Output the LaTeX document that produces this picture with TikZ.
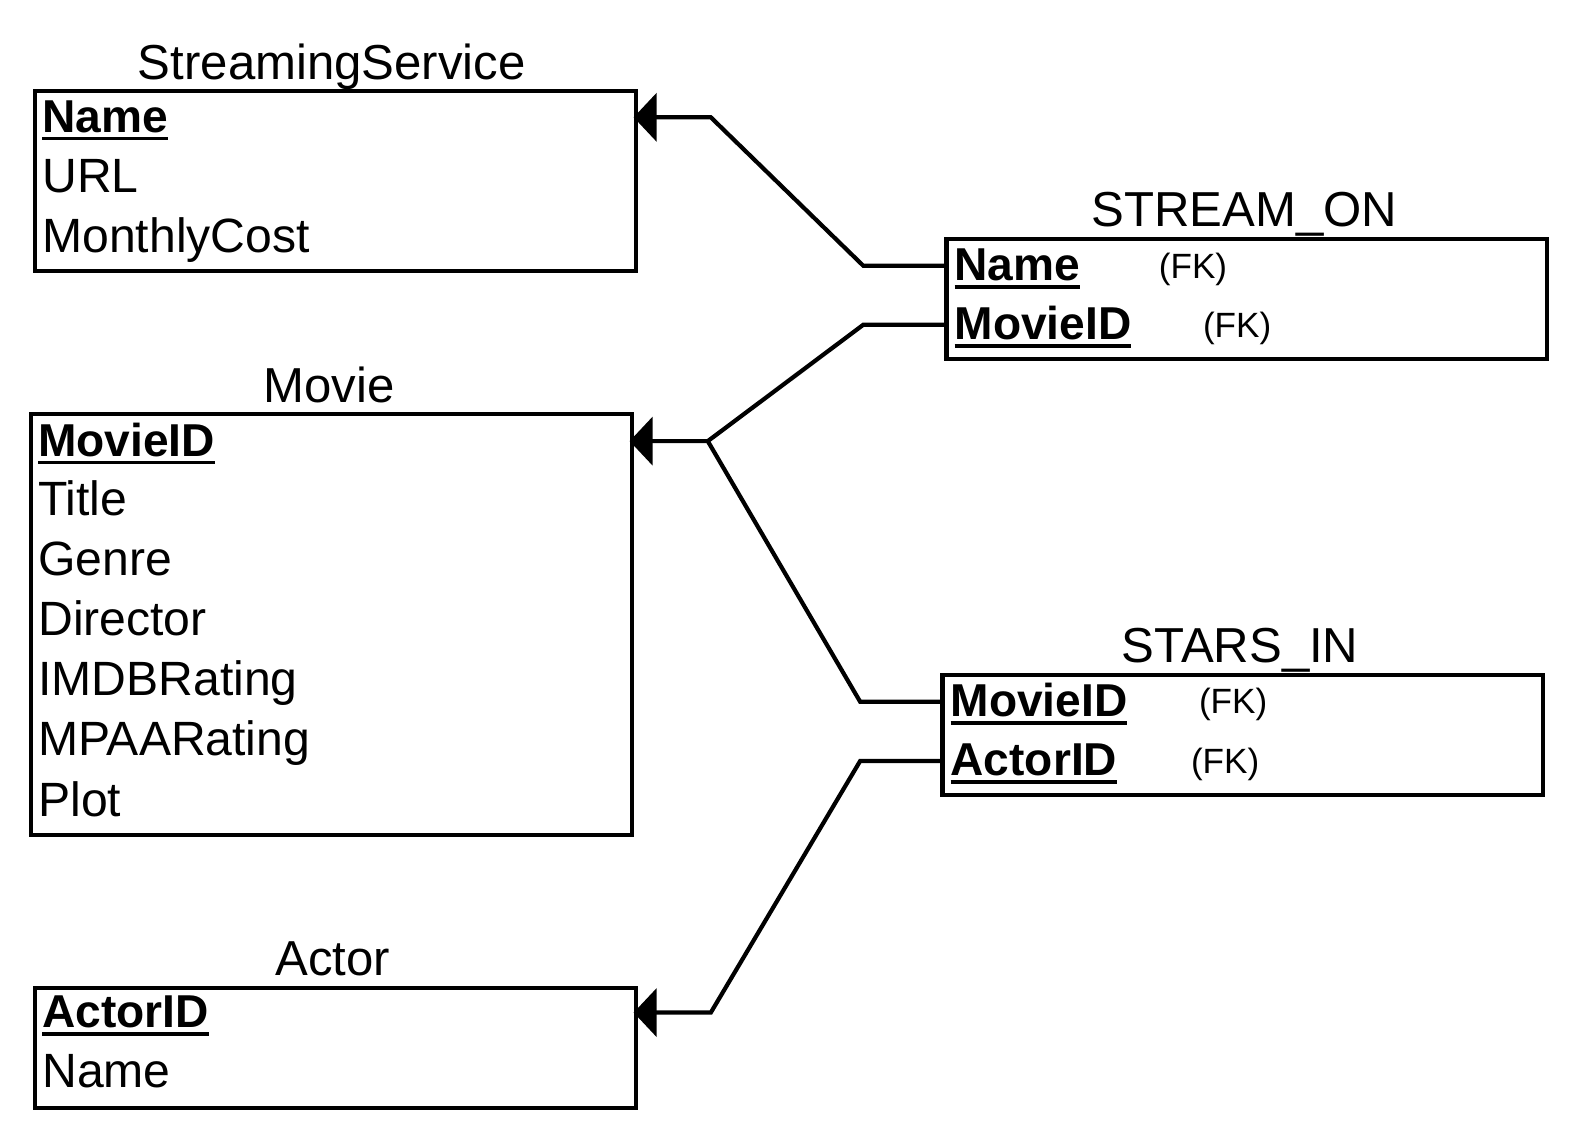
\documentclass[tikz,border=0pt]{standalone}
\usepackage{fontspec}
\setmainfont{Liberation Sans}
\usetikzlibrary{arrows.meta}
\newcommand\keyu[1]{\setbox0\hbox{#1}\rlap{\rule[-8pt]{\wd0}{3.5pt}}\box0}
\begin{document}
\begin{tikzpicture}[x=1pt,y=-1pt,
  tbl/.style={draw, line width=4.2pt, anchor=north west, inner sep=0pt, minimum width=599pt},
  ttl/.style={anchor=base, inner sep=0pt, font=\fontsize{49}{56}\selectfont},
  attr/.style={anchor=base west, inner sep=0pt, font=\fontsize{48}{56}\selectfont},
  pk/.style={anchor=base west, inner sep=0pt, font=\fontsize{46}{56}\selectfont\bfseries},
  fk/.style={anchor=base, inner sep=0pt, font=\fontsize{35}{40}\selectfont},
  conn/.style={line width=4.2pt, line join=miter},
  arr/.style={conn, -{Triangle[length=23pt,width=48pt]}}
]
\useasboundingbox (0,0) rectangle (1568,1129);

% StreamingService
\node[tbl, minimum height=179pt] (ss) at (33,89) {};
\node[ttl] (sst) at (331,79) {StreamingService};
\node[pk] (ss1) at (42,132) {\keyu{Name}};
\node[attr] (ss2) at (42,192) {URL};
\node[attr] (ss3) at (42,252) {MonthlyCost};
\coordinate (ssk) at (632,117);

% Movie
\node[tbl, minimum height=420pt] (mv) at (29,411) {};
\node[ttl] (mvt) at (328,401) {Movie};
\node[pk] (mv1) at (38,455) {\keyu{MovieID}};
\node[attr] (mv2) at (38,514) {Title};
\node[attr] (mv3) at (38,574) {Genre};
\node[attr] (mv4) at (38,634) {Director};
\node[attr] (mv5) at (38,694) {IMDBRating};
\node[attr] (mv6) at (38,754) {MPAARating};
\node[attr] (mv7) at (38,814) {Plot};
\coordinate (mvk) at (628,440);

% Actor
\node[tbl, minimum height=120pt] (ac) at (33,983) {};
\node[ttl] (act) at (332,973) {Actor};
\node[pk] (ac1) at (42,1025) {\keyu{ActorID}};
\node[attr] (ac2) at (42,1085) {Name};
\coordinate (ack) at (632,1010);

% STREAM_ON
\node[tbl, minimum height=120pt] (so) at (942,236) {};
\node[ttl] (sot) at (1241,226) {STREAM\_ON};
\node[pk] (so1) at (952,280) {\keyu{Name}};
\node[fk] (sof1) at (1190,278) {(FK)};
\node[pk] (so2) at (952,339) {\keyu{MovieID}};
\node[fk] (sof2) at (1234,337) {(FK)};
\coordinate (sok1) at (942,265);
\coordinate (sok2) at (942,324);

% STARS_IN
\node[tbl, minimum height=120pt] (si) at (938,671) {};
\node[ttl] (sit) at (1237,661) {STARS\_IN};
\node[pk] (si1) at (948,715) {\keyu{MovieID}};
\node[fk] (sif1) at (1230,712) {(FK)};
\node[pk] (si2) at (948,774) {\keyu{ActorID}};
\node[fk] (sif2) at (1222,772) {(FK)};
\coordinate (sik1) at (938,700);
\coordinate (sik2) at (938,759);

% junction points
\coordinate (j1a) at (861,265);
\coordinate (j1b) at (709,117);
\coordinate (j2a) at (861,324);
\coordinate (jm) at (706,440);
\coordinate (j3a) at (858,700);
\coordinate (j4a) at (858,759);
\coordinate (j4b) at (709,1010);

\draw[arr] (sok1) -- (j1a) -- (j1b) -- (ssk);
\draw[arr] (sok2) -- (j2a) -- (jm) -- (mvk);
\draw[conn] (sik1) -- (j3a) -- (jm);
\draw[arr] (sik2) -- (j4a) -- (j4b) -- (ack);
\end{tikzpicture}
\end{document}
